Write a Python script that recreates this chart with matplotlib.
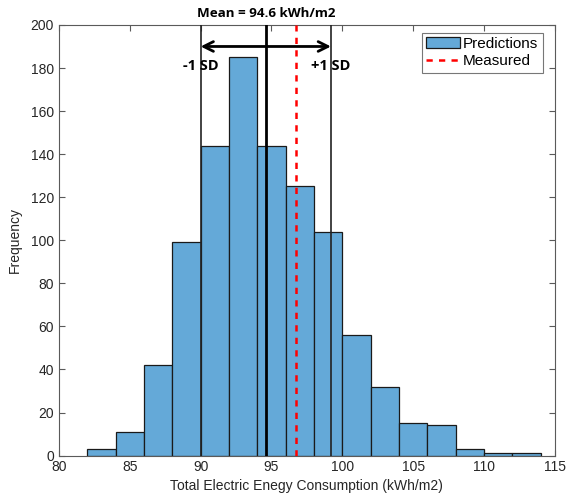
import matplotlib
matplotlib.use("Agg")
import matplotlib.pyplot as plt
import numpy as np

bin_edges = [82, 84, 86, 88, 90, 92, 94, 96, 98, 100, 102, 104, 106, 108, 110, 112, 114]
counts = [3, 11, 42, 99, 144, 185, 144, 125, 104, 56, 32, 15, 14, 3, 1, 1]
mean_val = 94.6
sd_low = 90.0
sd_high = 99.2
measured = 96.7
arrow_y = 190
xticks = [80, 85, 90, 95, 100, 105, 110, 115]
yticks = list(range(0, 201, 20))

plt.rcParams['font.family'] = ['Liberation Sans', 'DejaVu Sans']
fig = plt.figure(figsize=(5.72, 4.99), dpi=100)
ax = fig.add_axes([0.103, 0.087, 0.867, 0.863])

axc = '#5a5a5a'
lefts = bin_edges[:-1]
widths = np.diff(bin_edges)
bars = ax.bar(lefts, counts, width=widths, align='edge', color='#64a9d8', edgecolor='#1a1a1a',
              linewidth=0.9, label='Predictions', zorder=2)

ax.axvline(mean_val, color='black', linewidth=2.0, zorder=3)
ax.axvline(sd_low, color='#222222', linewidth=1.2, zorder=3)
ax.axvline(sd_high, color='#222222', linewidth=1.2, zorder=3)
meas = ax.axvline(measured, color='#ff0000', linestyle=(0, (2.5, 2.5)), linewidth=1.8, label='Measured', zorder=4)

ax.annotate('', xy=(sd_low, arrow_y), xytext=(sd_high, arrow_y),
            arrowprops=dict(arrowstyle='<->,head_length=0.7,head_width=0.35', color='black', lw=2.0,
                            shrinkA=0, shrinkB=0), zorder=5)
bold = dict(family=['Open Sans', 'DejaVu Sans'], fontweight='bold', fontsize=9.6)
sdfont = dict(bold, fontsize=10.5)
ax.text(sd_low, 181, '-1 SD', ha='center', va='center', **sdfont)
ax.text(sd_high, 181, '+1 SD', ha='center', va='center', **sdfont)
ax.text(mean_val, 202.3, 'Mean = 94.6 kWh/m2', ha='center', va='bottom', clip_on=False, **bold)

ax.set_xlim(80, 115)
ax.set_ylim(0, 200)
ax.set_xticks(xticks)
ax.set_yticks(yticks)
ax.tick_params(direction='in', top=True, right=True, length=4, color=axc, labelcolor='#262626', labelsize=10)
for s in ax.spines.values():
    s.set_color(axc)
    s.set_linewidth(0.8)
ax.set_xlabel('Total Electric Enegy Consumption (kWh/m2)', fontsize=10, color='#262626', labelpad=3)
ax.set_ylabel('Frequency', fontsize=10, color='#262626', labelpad=6)

leg = ax.legend([bars, meas], ['Predictions', 'Measured'], loc='upper right', bbox_to_anchor=(0.985, 0.993),
                fontsize=11, frameon=True, fancybox=False,
                borderpad=0.3, handlelength=2.2, handletextpad=0.2, labelspacing=0.22, borderaxespad=0.3)
leg.get_frame().set_edgecolor('#555555')
leg.get_frame().set_linewidth(0.8)

fig.savefig('out.png', dpi=100)
